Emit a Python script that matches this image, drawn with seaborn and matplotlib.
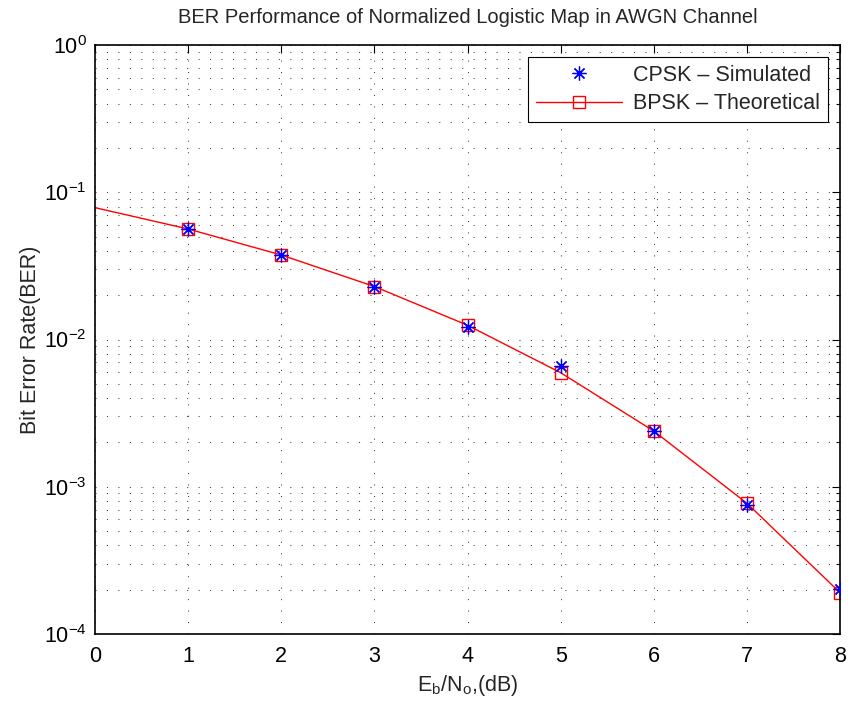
import numpy as np
import pandas as pd
import matplotlib
matplotlib.use("Agg")
import matplotlib.pyplot as plt
import seaborn as sns
from matplotlib.ticker import LogLocator, MultipleLocator, NullFormatter

# Data
ebno_theory = [0, 1, 2, 3, 4, 5, 6, 7, 8]
ber_theory = [0.0786, 0.0563, 0.0375, 0.0229, 0.0125, 0.00595, 0.00239, 0.000773, 0.000191]
ebno_sim = [1, 2, 3, 4, 5, 6, 7, 8]
ber_sim = [0.0565, 0.0372, 0.0226, 0.0122, 0.00665, 0.0024, 0.00075, 0.000202]

title = "BER Performance of Normalized Logistic Map in AWGN Channel"
label_sim = "CPSK \u2013 Simulated"
label_theory = "BPSK \u2013 Theoretical"

sns.set_style("white")
plt.rcParams["font.family"] = ["Liberation Sans", "DejaVu Sans"]
plt.rcParams["mathtext.fontset"] = "custom"
plt.rcParams["mathtext.rm"] = "Liberation Sans"
plt.rcParams["mathtext.it"] = "Liberation Sans:italic"
plt.rcParams["font.size"] = 15.5

df_t = pd.DataFrame({"x": ebno_theory, "y": ber_theory})
df_s = pd.DataFrame({"x": ebno_sim, "y": ber_sim})

fig = plt.figure(figsize=(8.51, 7.04), dpi=100)
ax = fig.add_axes([95 / 851, 1 - 634 / 704, (840 - 95) / 851, (634 - 45) / 704])

sns.lineplot(data=df_s, x="x", y="y", ax=ax, linestyle="", marker=(8, 2, 0),
             markersize=10, color="blue", markeredgecolor="blue", markeredgewidth=0.9,
             label=label_sim, zorder=3)
sns.lineplot(data=df_t, x="x", y="y", ax=ax, color="red", linewidth=1.0,
             marker="s", markersize=9, markerfacecolor="none", markeredgecolor="red",
             markeredgewidth=1.0, markevery=list(range(1, len(ebno_theory))),
             label=label_theory, zorder=2)

ax.set_yscale("log")
ax.set_xlim(0, 8)
ax.set_ylim(1e-4, 1)
ax.xaxis.set_major_locator(MultipleLocator(1))
ax.yaxis.set_major_locator(LogLocator(base=10, numticks=10))
ax.yaxis.set_minor_locator(LogLocator(base=10, subs=np.arange(2, 10), numticks=20))
ax.yaxis.set_minor_formatter(NullFormatter())

grid_ls = (0, (1, 10))
ax.grid(True, which="major", axis="both", linestyle=grid_ls, color="0.25", linewidth=0.75)
ax.grid(True, which="minor", axis="y", linestyle=grid_ls, color="0.25", linewidth=0.75)

ax.tick_params(axis="both", which="both", direction="in", top=True, right=True,
               labelsize=15.5, colors="black")
ax.tick_params(axis="both", which="major", length=6, width=0.8)
ax.tick_params(axis="x", which="major", pad=9)
ax.tick_params(axis="y", which="major", pad=6)
ax.tick_params(axis="both", which="minor", length=3, width=0.8)
for s in ax.spines.values():
    s.set_color("black")
    s.set_linewidth(1.2)

ax.set_title(title, fontsize=14.5, pad=16)
ax.set_xlabel(r"$\mathregular{E_b/N_o}$,(dB)", fontsize=15.5, labelpad=4)
ax.set_ylabel("Bit Error Rate(BER)", fontsize=15.5, labelpad=2)

leg = ax.legend(loc="upper right", fontsize=15.5, frameon=True, fancybox=False,
                framealpha=1, edgecolor="black", handlelength=4.0, handletextpad=0.5,
                borderaxespad=0.55, labelspacing=0.34, borderpad=0.37)
leg.get_frame().set_linewidth(0.8)

fig.savefig("out.png", dpi=100)
